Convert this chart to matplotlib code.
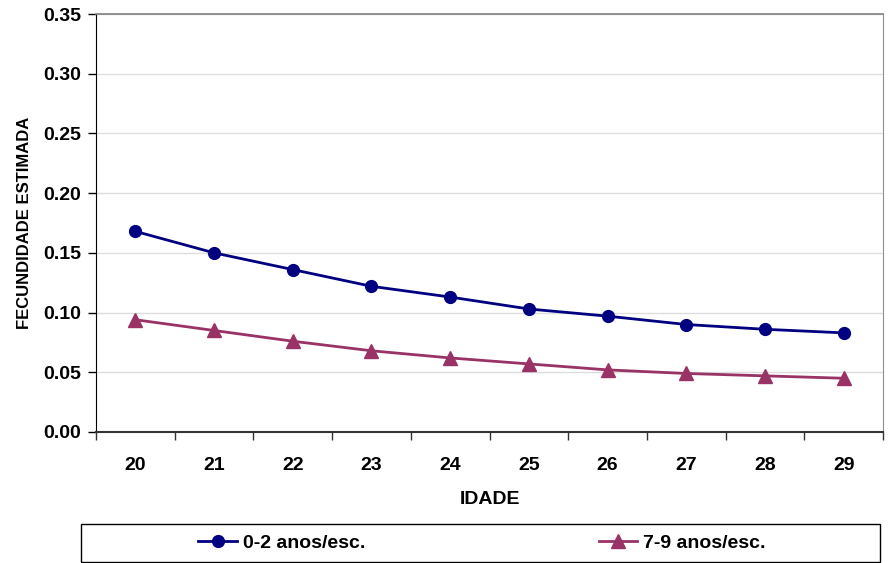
import matplotlib.pyplot as plt
from matplotlib.patches import Rectangle

plt.rcParams['font.family'] = ['Liberation Sans', 'DejaVu Sans']
plt.rcParams['font.weight'] = 'bold'

# data
idade = ['20', '21', '22', '23', '24', '25', '26', '27', '28', '29']
esc_0_2 = [0.168, 0.150, 0.136, 0.122, 0.113, 0.103, 0.097, 0.090, 0.086, 0.083]
esc_7_9 = [0.094, 0.085, 0.076, 0.068, 0.062, 0.057, 0.052, 0.049, 0.047, 0.045]
y_ticks = [0.00, 0.05, 0.10, 0.15, 0.20, 0.25, 0.30, 0.35]

fig = plt.figure(figsize=(8.95, 5.63), dpi=100)
ax = fig.add_axes([0.1073, 0.2327, 0.8793, 0.7424])

x = list(range(len(idade)))
ax.plot(x, esc_0_2, color='#000080', lw=2.0, marker='o', ms=8.5,
        label='0-2 anos/esc.')
ax.plot(x, esc_7_9, color='#993366', lw=2.0, marker='^', ms=9.5,
        label='7-9 anos/esc.')

ax.set_xlim(-0.5, len(idade) - 0.5)
ax.set_ylim(0, 0.35)
ax.set_yticks(y_ticks)
ax.set_yticklabels([f'{v:.2f}' for v in y_ticks], fontsize=14, fontweight='bold')
ax.set_xticks(x)
ax.set_xticklabels(idade, fontsize=14, fontweight='bold')
ax.set_xticks([i - 0.5 for i in range(len(idade) + 1)], minor=True)
ax.tick_params(axis='x', which='major', length=0, pad=18)
ax.tick_params(axis='x', which='minor', length=6, width=1, color='#333333', direction='out')
ax.tick_params(axis='y', length=6, width=1, direction='out', pad=5)

ax.grid(axis='y', color='#dddddd', lw=1)
ax.set_axisbelow(True)

ax.spines['left'].set_color('black')
ax.spines['bottom'].set_color('#333333')
ax.spines['bottom'].set_linewidth(1.5)
ax.spines['top'].set_color('#808080')
ax.spines['top'].set_linewidth(1.2)
ax.spines['right'].set_color('#909090')

ax.set_xlabel('IDADE', fontsize=14, fontweight='bold', labelpad=12)
ax.set_ylabel('FECUNDIDADE ESTIMADA', fontsize=12, fontweight='bold', labelpad=8)

# legend box below the chart
fig.patches.append(Rectangle((81 / 895, 1 - 562 / 563), (880 - 81) / 895, 38 / 563,
                             transform=fig.transFigure, fill=False,
                             edgecolor='black', lw=1))
fig.legend(loc='center', bbox_to_anchor=(482 / 895, 1 - 543 / 563), ncol=2,
           frameon=False, prop={'size': 14, 'weight': 'bold'},
           columnspacing=12.0, handlelength=2.0, handletextpad=0.3)

fig.savefig('out.png', dpi=100)
